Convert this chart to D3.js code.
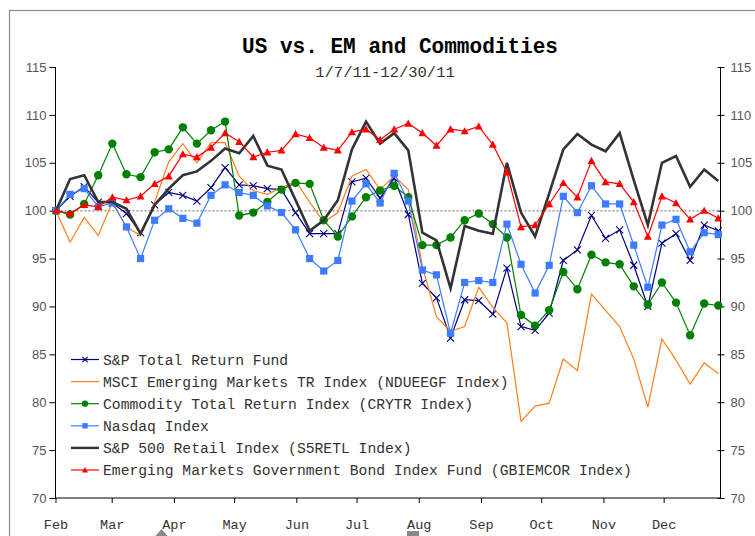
<!DOCTYPE html>
<html><head><meta charset="utf-8">
<script src="https://cdn.jsdelivr.net/npm/d3@7"></script>
<style>html,body{margin:0;padding:0;background:#fff;}svg{display:block;}</style>
</head><body>
<svg id="c" width="755" height="536"></svg>
<script>
const title = "US vs. EM and Commodities";
const subtitle = "1/7/11-12/30/11";
const monthLabels = ["Feb","Mar","Apr","May","Jun","Jul","Aug","Sep","Oct","Nov","Dec"];
const yTicks = [70,75,80,85,90,95,100,105,110,115];
const seriesNames = [
  "S&P Total Return Fund",
  "MSCI Emerging Markets TR Index (NDUEEGF Index)",
  "Commodity Total Return Index (CRYTR Index)",
  "Nasdaq Index",
  "S&P 500 Retail Index (S5RETL Index)",
  "Emerging Markets Government Bond Index Fund (GBIEMCOR Index)"
];
const spTotal = [100,101.5,102.5,100.9,100.8,99.7,97.7,100.6,101.9,101.6,101.0,102.4,104.5,102.7,102.6,102.3,102.2,99.8,97.6,97.6,97.6,103.0,103.4,101.3,103.4,99.6,92.4,90.9,86.7,90.7,90.6,89.2,94.0,87.9,87.5,89.3,94.8,95.9,99.5,97.1,98.0,94.3,90.0,96.6,97.6,94.8,98.5,97.9];
const msciEM = [100,96.7,99.3,97.4,100.9,98.3,97.4,100.9,105.1,107.0,105.0,107.1,107.1,103.6,102.1,101.7,102.4,103.1,100.9,98.8,99.8,103.6,104.3,102.2,103.6,102.2,94.2,88.9,87.4,87.9,92.0,89.9,88.3,78.0,79.6,79.9,84.5,83.3,91.3,89.6,87.9,84.5,79.5,86.6,84.4,81.9,84.1,83.0];
const commodity = [100,99.6,100.7,103.7,107.0,103.8,103.5,106.1,106.4,108.7,107.0,108.4,109.3,99.5,99.8,100.9,102.2,102.9,102.8,99.0,97.3,99.4,101.4,102.1,102.6,101.4,96.4,96.4,97.2,99.0,99.7,98.6,97.2,89.1,88.0,89.6,93.6,91.8,95.4,94.6,94.4,92.1,90.2,92.5,90.4,87.0,90.3,90.1];
const nasdaq = [100,101.7,102.3,100.4,100.8,98.3,95.0,99.0,100.2,99.2,98.7,101.6,102.7,101.9,101.6,100.5,99.8,98.0,95.0,93.7,94.8,101.0,102.8,100.8,103.9,101.0,93.8,93.3,87.2,92.5,92.7,92.5,98.6,94.4,91.4,94.3,101.5,99.8,102.6,100.7,100.7,96.4,92.0,98.5,99.1,95.7,97.7,97.5];
const retail = [100,103.3,103.7,100.9,100.9,100.2,97.6,100.6,102.3,103.7,104.1,105.2,106.5,106.0,107.8,104.7,104.3,101.1,97.9,99.0,101.1,106.4,109.3,107.0,108.1,106.3,97.7,96.9,91.9,98.4,97.9,97.6,105.0,99.8,97.3,101.8,106.4,108.0,106.9,106.2,108.1,103.2,98.5,105.0,105.7,102.5,104.3,103.1];
const emBond = [100,99.7,100.6,100.4,101.4,101.1,101.5,102.8,103.6,105.9,105.6,106.6,108.1,107.2,105.6,106.1,106.3,108.0,107.6,106.6,106.3,108.2,108.5,107.4,108.5,109.1,108.1,106.8,108.5,108.3,108.8,106.9,104.0,98.3,98.5,100.7,102.9,101.4,105.2,103.0,102.8,100.9,97.3,101.5,100.8,99.1,100.0,99.2];
const weekIndex = d3.range(spTotal.length);

const svg = d3.select("#c");
const L = 55.5, R = 720.5, T = 67, B = 498;
const x = d3.scaleLinear().domain([0, weekIndex.length - 1]).range([56, 718.3]);
const y = d3.scaleLinear().domain([70, 115]).range([B, T]);
const xt = d3.scaleUtc().domain([new Date(Date.UTC(2011,1,1)), new Date(Date.UTC(2011,11,29,8))]).range([L, R]);

// frame
svg.append("rect").attr("x", 9.5).attr("y", 10.5).attr("width", 760).attr("height", 560)
  .attr("fill", "none").attr("stroke", "#8a8a8a").attr("stroke-width", 1.2);

// title
svg.append("text").attr("x", 400).attr("y", 53).attr("text-anchor", "middle")
  .attr("font-family", "Liberation Mono, Courier New, monospace").attr("font-weight", "bold")
  .attr("font-size", 22).attr("textLength", 316).attr("lengthAdjust", "spacingAndGlyphs")
  .attr("fill", "#000").text(title);
svg.append("text").attr("x", 385).attr("y", 77).attr("text-anchor", "middle")
  .attr("font-family", "Liberation Mono, Courier New, monospace")
  .attr("font-size", 15.5).attr("fill", "#333").text(subtitle);

// axes
const axL = d3.axisLeft(y).tickValues(yTicks).tickSize(6).tickPadding(3);
const axR = d3.axisRight(y).tickValues(yTicks).tickSize(4).tickPadding(6);
const gL = svg.append("g").attr("transform", `translate(${L},0)`).call(axL);
const gR = svg.append("g").attr("transform", `translate(${R},0)`).call(axR);
gR.selectAll(".tick line").attr("x1", -3);
[gL, gR].forEach(g => {
  g.select(".domain").attr("stroke", "#000").attr("d", g === gL ? `M0,${T}V${B}` : `M0,${T}V${B}`);
  g.selectAll(".tick line").attr("stroke", "#000");
  g.selectAll(".tick text").attr("font-family", "Liberation Sans, Arial, sans-serif")
    .attr("font-size", 13).attr("fill", "#555");
});
const monthDates = monthLabels.map((m, i) => new Date(Date.UTC(2011, i + 1, 1)));
const axB = d3.axisBottom(xt).tickValues(monthDates).tickSize(5).tickPadding(16)
  .tickFormat((d, i) => monthLabels[i]);
const gB = svg.append("g").attr("transform", `translate(0,${B})`).call(axB);
gB.select(".domain").attr("stroke", "#000").attr("d", `M${L},0H${R}`);
gB.selectAll(".tick line").attr("stroke", "#000");
gB.selectAll(".tick text").attr("font-family", "Liberation Mono, Courier New, monospace")
  .attr("font-size", 13.5).attr("fill", "#333");

// 100 reference
svg.append("line").attr("x1", L + 1).attr("x2", R - 1).attr("y1", y(100)).attr("y2", y(100))
  .attr("stroke", "#999").attr("stroke-width", 1.5).attr("stroke-dasharray", "2,2");

const series = [
  {name: seriesNames[0], data: spTotal, color: "#000080", w: 1.2, mark: "x"},
  {name: seriesNames[1], data: msciEM, color: "#ff7f1e", w: 1.2, mark: null},
  {name: seriesNames[2], data: commodity, color: "#008000", w: 1.2, mark: "circle"},
  {name: seriesNames[3], data: nasdaq, color: "#3d7cff", w: 1.2, mark: "square"},
  {name: seriesNames[4], data: retail, color: "#333333", w: 2.6, mark: null},
  {name: seriesNames[5], data: emBond, color: "#ff0000", w: 1.2, mark: "triangle"}
];

function drawMark(g, type, cx, cy, color, s) {
  s = s || 1;
  if (type === "circle") {
    g.append("circle").attr("cx", cx).attr("cy", cy).attr("r", 4.2 * s).attr("fill", color);
  } else if (type === "square") {
    const h = 3.6 * s;
    g.append("rect").attr("x", cx - h).attr("y", cy - h).attr("width", 2 * h).attr("height", 2 * h).attr("fill", color);
  } else if (type === "triangle") {
    const h = 4 * s;
    g.append("path").attr("d", `M${cx},${cy - h}L${cx + h},${cy + h * 0.8}L${cx - h},${cy + h * 0.8}Z`).attr("fill", color);
  } else if (type === "x") {
    const h = 3.5 * s;
    g.append("path").attr("d", `M${cx - h},${cy - h}L${cx + h},${cy + h}M${cx - h},${cy + h}L${cx + h},${cy - h}`)
      .attr("stroke", color).attr("stroke-width", 1.1).attr("fill", "none");
  }
}

const line = d3.line().x((d, i) => x(i)).y(d => y(d));
series.forEach(s => {
  const g = svg.append("g");
  g.append("path").datum(s.data).attr("d", line).attr("fill", "none")
    .attr("stroke", s.color).attr("stroke-width", s.w).attr("stroke-linejoin", "miter");
  if (s.mark) s.data.forEach((v, i) => drawMark(g, s.mark, x(i), y(v), s.color));
});

// legend
const lg = svg.append("g");
series.forEach((s, i) => {
  const cy = 359.5 + i * 22.1;
  lg.append("line").attr("x1", 71).attr("x2", 99).attr("y1", cy).attr("y2", cy)
    .attr("stroke", s.color).attr("stroke-width", s.w === 2.6 ? 2.4 : 1.2);
  if (s.mark) drawMark(lg, s.mark, 85, cy, s.color, 0.75);
  lg.append("text").attr("x", 103).attr("y", cy).attr("dy", "0.35em")
    .attr("font-family", "Liberation Mono, Courier New, monospace").attr("font-size", 14.7)
    .attr("fill", "#333").text(s.name);
});

// bottom gray artifacts
svg.append("path").attr("d", "M161.5,529L168.5,537L154.5,537Z").attr("fill", "#8a8a8a");
svg.append("rect").attr("x", 407).attr("y", 531).attr("width", 12).attr("height", 6).attr("fill", "#8a8a8a");
</script>
</body></html>
